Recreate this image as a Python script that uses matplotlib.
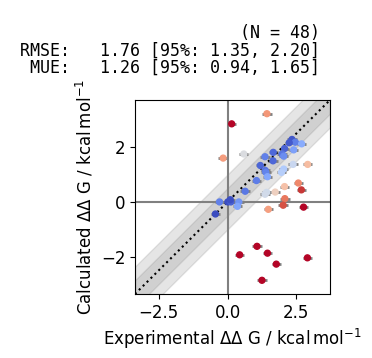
import numpy as np
import matplotlib
matplotlib.use("Agg")
import matplotlib.pyplot as plt

# experimental vs calculated DDG values (kcal/mol)
x_exp = np.array([1.43, 0.15, 2.34, 2.46, 2.69, 2.24, 2.07, 1.66, 1.98, 2.04,
                  2.40, 1.36, 0.59, -0.16, 1.65, 1.19, 1.37, 1.39, 1.45, 2.04,
                  1.96, 2.38, 2.91, 1.05, 2.07, 2.57, 2.68, 0.64, 1.42, 1.36,
                  1.73, 2.08, 2.02, 2.76, 1.48, -0.29, 0.01, 0.12, 0.41, 0.36,
                  -0.44, 1.07, 0.44, 1.45, 1.77, 2.90, 1.25, 0.10])
y_calc = np.array([3.22, 2.85, 2.28, 2.18, 2.12, 2.16, 1.95, 1.81, 1.75, 1.67,
                   1.90, 1.65, 1.75, 1.60, 1.50, 1.33, 1.15, 1.08, 0.92, 1.20,
                   1.08, 1.37, 1.37, 0.78, 0.56, 0.69, 0.44, 0.39, 0.35, 0.28,
                   0.36, 0.12, -0.12, -0.19, -0.27, 0.00, 0.00, 0.00, 0.00, -0.16,
                   -0.44, -1.62, -1.93, -1.87, -2.27, -2.04, -2.86, 0.08])
x_err = np.full(len(x_exp), 0.17)
y_err = np.full(len(x_exp), 0.05)

stats = [("RMSE", 1.76, 1.35, 2.20), ("MUE", 1.26, 0.94, 1.65)]

plt.rcParams["font.size"] = 12
plt.rcParams["xtick.labelsize"] = 12
plt.rcParams["ytick.labelsize"] = 12

W, H = 372, 358
fig = plt.figure(figsize=(W / 100, H / 100), dpi=100)
ax = fig.add_axes([135 / W, 64 / H, 195 / W, 194 / H])

quantity = r"$\Delta \Delta$ G"
units = r"$\mathrm{kcal\,mol^{-1}}$"
ax.set_xlabel(f"Experimental {quantity} / " + units)
ax.set_ylabel(f"Calculated {quantity} / " + units)

ax_min = min(x_exp.min(), y_calc.min()) - 0.5
ax_max = max(x_exp.max(), y_calc.max()) + 0.5
scale = [ax_min, ax_max]
ax.set_xlim(scale)
ax.set_ylim(scale)

# axes through the origin
ax.plot([0, 0], scale, "gray")
ax.plot(scale, [0, 0], "gray")

# x=y line and guide bands
ax.plot(scale, scale, "k:")
d = 0.5
ax.fill_between(scale, [ax_min - d, ax_max - d], [ax_min + d, ax_max + d],
                color="grey", alpha=0.2)
ax.fill_between(scale, [ax_min - 2 * d, ax_max - 2 * d], [ax_min + 2 * d, ax_max + 2 * d],
                color="grey", alpha=0.2)

cm = plt.get_cmap("coolwarm")
colors = cm(np.abs(x_exp - y_calc) / 2.372)
ax.errorbar(x_exp, y_calc, xerr=x_err, yerr=y_err, color="gray",
            linewidth=0.0, elinewidth=2.0, zorder=1)
ax.scatter(x_exp, y_calc, color=colors, s=18, marker="o", zorder=2)

# statistics block above the axes, right aligned
lines = [f"(N = {len(x_exp)})"]
for name, val, lo, hi in stats:
    lines.append(f"{name}:   {val:.2f} [95%: {lo:.2f}, {hi:.2f}]")
baselines = [38.5, 56, 73]
for txt, yb in zip(lines, baselines):
    fig.text(319.5 / W, 1 - yb / H, txt, ha="right", va="baseline",
             fontsize=12, family="monospace")

fig.savefig("out.png", dpi=100)
